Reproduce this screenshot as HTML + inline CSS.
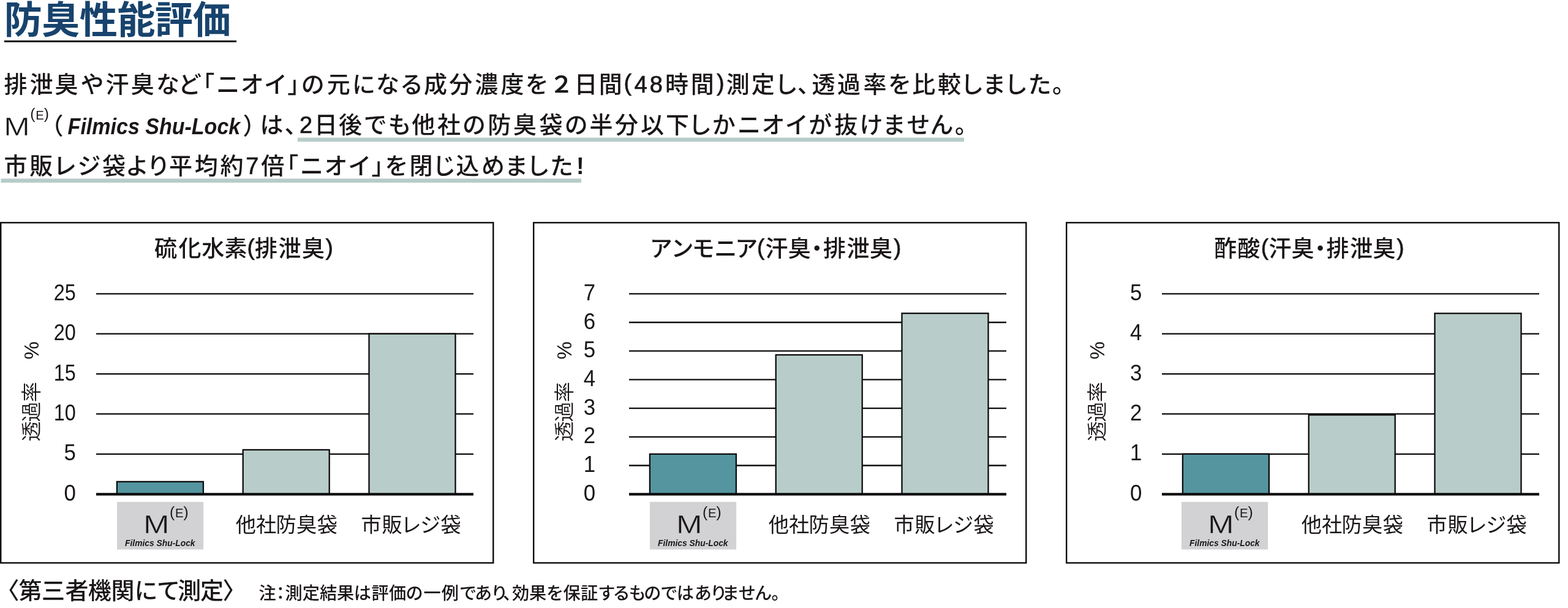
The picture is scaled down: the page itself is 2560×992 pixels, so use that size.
<!DOCTYPE html>
<html lang="ja">
<head>
<meta charset="utf-8">
<title>防臭性能評価</title>
<style>
html,body{margin:0;padding:0;background:#fff;}
body{width:2560px;height:992px;position:relative;overflow:hidden;font-family:"Liberation Sans", "Noto Sans CJK JP", sans-serif;color:#1a1617;}
h1{position:absolute;margin:0;left:6.7px;top:3px;font-size:62px;line-height:62px;font-weight:700;color:#17436d;letter-spacing:-0.4px;white-space:nowrap;}
.rule{position:absolute;left:6.6px;top:66.4px;width:379.9px;height:2.6px;background:#0d0b0c;}
svg{position:absolute;left:0;top:0;overflow:visible;}
svg text{font-family:"Liberation Sans", "Noto Sans CJK JP", sans-serif;fill:#1a1617;white-space:pre;}
.p{font-size:38px;font-weight:500;}
.d{stroke:#1a1617;stroke-width:0.7px;}
.ct{font-size:37px;font-weight:500;}
.num{font-size:37.5px;font-weight:400;}
.lb{font-size:33.2px;font-weight:400;}
.yl{font-size:33px;font-weight:350;}
.bm{font-weight:400;stroke-width:0.5px;}
.be{font-size:20.4px;font-weight:400;}
.bp{font-size:24.6px;}
.fs{font-weight:700;font-style:italic;}
.f2{font-size:28.2px;font-weight:500;}
</style>
</head>
<body>
<h1>防臭性能評価</h1>
<div class="rule"></div>
<svg width="2560" height="992" viewBox="0 0 2560 992">
<text class="p" x="6.6 48.4 89.6 131.5 172.5 213.7 255.0 291.1 312.5 353.3 392.7 431.1 469.2 491.8 533.7 575.0 614.1 652.9 692.0 733.2 775.2 817.4 857.7 897.7 937.4 977.7 1018.5 1035.8 1060.7 1085.9 1127.7 1170.0 1185.8 1226.8 1264.7 1301.8 1325.6 1366.9 1409.5 1450.0 1489.2 1531.1 1568.2 1604.2 1640.1 1678.6 1718.0" y="150.8 150.8 150.8 150.8 150.8 150.8 150.8 150.8 150.8 150.8 150.8 150.8 150.8 150.8 150.8 150.8 150.8 150.8 150.8 150.8 150.8 150.8 150.8 150.8 150.8 150.8 148.1 150.8 150.8 150.8 150.8 148.1 150.8 150.8 150.8 150.8 150.8 150.8 150.8 150.8 150.8 150.8 150.8 150.8 150.8 150.8 150.8">排泄臭や汗臭など「ニオイ」の元になる成分濃度を<tspan class="d">２</tspan>日間<tspan class="d">(48</tspan>時間<tspan class="d">)</tspan>測定し、透過率を比較しました。</text>
<rect x="485.9" y="224.6" width="1088.2" height="6.6" fill="#b6ccc8"/>
<text class="bm" transform="translate(6.2,220.7) scale(1.179,1)" style="font-size:43.2px;stroke:#fff">M</text><text class="be" x="49.2 58.2 71.7" y="194.3 194.7 194.3"><tspan class="bp">(</tspan>E<tspan class="bp">)</tspan></text>
<text class="p" x="65.5" y="219.2">（</text>
<text class="fs" transform="translate(110.6,219.4) scale(0.905,1)" style="font-size:37.6px">Filmics Shu-Lock</text>
<text class="p" x="396.5 424.5 464.6 489.1 513.0 552.9 593.7 633.5 672.2 714.0 754.9 796.3 838.1 880.4 921.8 962.5 1004.1 1045.9 1086.9 1124.1 1162.7 1203.9 1243.6 1281.8 1320.3 1362.2 1403.5 1440.8 1480.4 1518.4 1558.9" y="219.2 217.3 217.3 217.3 217.3 217.3 217.3 217.3 217.3 217.3 217.3 217.3 217.3 217.3 217.3 217.3 217.3 217.3 217.3 217.3 217.3 217.3 217.3 217.3 217.3 217.3 217.3 217.3 217.3 217.3 217.3">）は、<tspan class="d">2</tspan>日後でも他社の防臭袋の半分以下しかニオイが抜けません。</text>
<rect x="1.5" y="291.4" width="947.5" height="6.6" fill="#b6ccc8"/>
<text class="p" x="6.6 48.2 87.0 126.6 166.9 205.1 239.7 276.0 317.7 359.5 401.3 426.3 449.3 490.1 529.6 568.2 606.4 628.6 668.4 706.2 744.6 786.1 823.9 859.7 898.0" y="283.7">市販レジ袋より平均約<tspan class="d">7</tspan>倍「ニオイ」を閉じ込めました</text>
<text class="p" style="font-weight:700" x="940.9" y="283.7">!</text>
<g transform="translate(0,0)">
<rect x="1.2" y="363.3" width="804.1" height="555.1" fill="#fff" stroke="#0d0b0c" stroke-width="2.4"/>
<text class="ct" x="252.1 291.4 329.3 366.5 403.5 416.1 454.6 493.0 531.4" y="419.1 419.1 419.1 419.1 416.4 419.1 419.1 419.1 416.4">硫化水素<tspan class="d">(</tspan>排泄臭<tspan class="d">)</tspan></text>
<text class="num" transform="translate(123.8,816.7) scale(0.93,1)" text-anchor="end">0</text>
<line x1="157.0" x2="773.0" y1="740.8" y2="740.8" stroke="#0d0b0c" stroke-width="2.3"/>
<text class="num" transform="translate(123.8,751.3) scale(0.93,1)" text-anchor="end">5</text>
<line x1="157.0" x2="773.0" y1="675.4" y2="675.4" stroke="#0d0b0c" stroke-width="2.3"/>
<text class="num" transform="translate(123.7,685.9) scale(0.865,1)" text-anchor="end">10</text>
<line x1="157.0" x2="773.0" y1="610.1" y2="610.1" stroke="#0d0b0c" stroke-width="2.3"/>
<text class="num" transform="translate(123.7,620.6) scale(0.865,1)" text-anchor="end">15</text>
<line x1="157.0" x2="773.0" y1="544.7" y2="544.7" stroke="#0d0b0c" stroke-width="2.3"/>
<text class="num" transform="translate(123.7,555.2) scale(0.865,1)" text-anchor="end">20</text>
<line x1="157.0" x2="773.0" y1="479.3" y2="479.3" stroke="#0d0b0c" stroke-width="2.3"/>
<text class="num" transform="translate(123.7,489.8) scale(0.865,1)" text-anchor="end">25</text>
<rect x="190.9" y="785.9" width="141.0" height="20.3" fill="#54959f" stroke="#0d0b0c" stroke-width="2.3"/>
<rect x="396.7" y="733.9" width="141.0" height="72.3" fill="#b8cdc9" stroke="#0d0b0c" stroke-width="2.3"/>
<rect x="602.5" y="544.6" width="141.0" height="261.6" fill="#b8cdc9" stroke="#0d0b0c" stroke-width="2.3"/>
<line x1="157.0" x2="773.0" y1="806.4" y2="806.4" stroke="#0d0b0c" stroke-width="4.1"/>
<rect x="191.0" y="818.9" width="141.1" height="77.6" fill="#d2d2d4"/>
<text class="bm" transform="translate(234.0,869.9) scale(1.179,1)" style="font-size:43.2px;stroke:#d2d2d4">M</text><text class="be" x="277.0 286.0 299.5" y="843.5 843.9 843.5"><tspan class="bp">(</tspan>E<tspan class="bp">)</tspan></text>
<text class="fs" transform="translate(204.0,891.2) scale(0.905,1)" style="font-size:15.3px">Filmics Shu-Lock</text>
<text class="lb" x="384.7 417.9 450.5 484.0 517.7" y="868.3">他社防臭袋</text>
<text class="lb" x="589.6 623.4 654.4 686.2 719.6" y="868.3">市販レジ袋</text>
<text class="yl" transform="translate(63.2,720.2) rotate(-90)" x="0 31.7 64.2 97.2 133.6">透過率　%</text>
</g>
<g transform="translate(870,0)">
<rect x="1.2" y="363.3" width="804.1" height="555.1" fill="#fff" stroke="#0d0b0c" stroke-width="2.4"/>
<text class="ct" x="190.7 225.4 259.8 296.2 330.2 365.9 379.4 416.7 445.2 473.9 512.4 549.9 588.9" y="419.1 419.1 419.1 419.1 419.1 416.4 419.1 419.1 419.1 419.1 419.1 419.1 416.4">アンモニア<tspan class="d">(</tspan>汗臭・排泄臭<tspan class="d">)</tspan></text>
<text class="num" transform="translate(102.2,816.7) scale(0.93,1)" text-anchor="end">0</text>
<line x1="157.0" x2="773.0" y1="759.5" y2="759.5" stroke="#0d0b0c" stroke-width="2.3"/>
<text class="num" transform="translate(102.2,770.0) scale(0.93,1)" text-anchor="end">1</text>
<line x1="157.0" x2="773.0" y1="712.8" y2="712.8" stroke="#0d0b0c" stroke-width="2.3"/>
<text class="num" transform="translate(102.2,723.3) scale(0.93,1)" text-anchor="end">2</text>
<line x1="157.0" x2="773.0" y1="666.1" y2="666.1" stroke="#0d0b0c" stroke-width="2.3"/>
<text class="num" transform="translate(102.2,676.6) scale(0.93,1)" text-anchor="end">3</text>
<line x1="157.0" x2="773.0" y1="619.4" y2="619.4" stroke="#0d0b0c" stroke-width="2.3"/>
<text class="num" transform="translate(102.2,629.9) scale(0.93,1)" text-anchor="end">4</text>
<line x1="157.0" x2="773.0" y1="572.7" y2="572.7" stroke="#0d0b0c" stroke-width="2.3"/>
<text class="num" transform="translate(102.2,583.2) scale(0.93,1)" text-anchor="end">5</text>
<line x1="157.0" x2="773.0" y1="526.0" y2="526.0" stroke="#0d0b0c" stroke-width="2.3"/>
<text class="num" transform="translate(102.2,536.5) scale(0.93,1)" text-anchor="end">6</text>
<line x1="157.0" x2="773.0" y1="479.3" y2="479.3" stroke="#0d0b0c" stroke-width="2.3"/>
<text class="num" transform="translate(102.2,489.8) scale(0.93,1)" text-anchor="end">7</text>
<rect x="190.9" y="740.8" width="141.0" height="65.4" fill="#54959f" stroke="#0d0b0c" stroke-width="2.3"/>
<rect x="396.7" y="579.0" width="141.0" height="227.2" fill="#b8cdc9" stroke="#0d0b0c" stroke-width="2.3"/>
<rect x="602.5" y="511.2" width="141.0" height="295.0" fill="#b8cdc9" stroke="#0d0b0c" stroke-width="2.3"/>
<line x1="157.0" x2="773.0" y1="806.4" y2="806.4" stroke="#0d0b0c" stroke-width="4.1"/>
<rect x="191.0" y="818.9" width="141.1" height="77.6" fill="#d2d2d4"/>
<text class="bm" transform="translate(234.0,869.9) scale(1.179,1)" style="font-size:43.2px;stroke:#d2d2d4">M</text><text class="be" x="277.0 286.0 299.5" y="843.5 843.9 843.5"><tspan class="bp">(</tspan>E<tspan class="bp">)</tspan></text>
<text class="fs" transform="translate(204.0,891.2) scale(0.905,1)" style="font-size:15.3px">Filmics Shu-Lock</text>
<text class="lb" x="384.7 417.9 450.5 484.0 517.7" y="868.3">他社防臭袋</text>
<text class="lb" x="589.6 623.4 654.4 686.2 719.6" y="868.3">市販レジ袋</text>
<text class="yl" transform="translate(63.2,720.2) rotate(-90)" x="0 31.7 64.2 97.2 133.6">透過率　%</text>
</g>
<g transform="translate(1740,0)">
<rect x="1.2" y="363.3" width="804.1" height="555.1" fill="#fff" stroke="#0d0b0c" stroke-width="2.4"/>
<text class="ct" x="242.2 280.3 318.8 331.4 368.6 397.1 425.5 464.0 501.4 540.2" y="419.1 419.1 416.4 419.1 419.1 419.1 419.1 419.1 419.1 416.4">酢酸<tspan class="d">(</tspan>汗臭・排泄臭<tspan class="d">)</tspan></text>
<text class="num" transform="translate(124.4,816.7) scale(0.93,1)" text-anchor="end">0</text>
<line x1="157.0" x2="773.0" y1="740.8" y2="740.8" stroke="#0d0b0c" stroke-width="2.3"/>
<text class="num" transform="translate(124.4,751.3) scale(0.93,1)" text-anchor="end">1</text>
<line x1="157.0" x2="773.0" y1="675.4" y2="675.4" stroke="#0d0b0c" stroke-width="2.3"/>
<text class="num" transform="translate(124.4,685.9) scale(0.93,1)" text-anchor="end">2</text>
<line x1="157.0" x2="773.0" y1="610.1" y2="610.1" stroke="#0d0b0c" stroke-width="2.3"/>
<text class="num" transform="translate(124.4,620.6) scale(0.93,1)" text-anchor="end">3</text>
<line x1="157.0" x2="773.0" y1="544.7" y2="544.7" stroke="#0d0b0c" stroke-width="2.3"/>
<text class="num" transform="translate(124.4,555.2) scale(0.93,1)" text-anchor="end">4</text>
<line x1="157.0" x2="773.0" y1="479.3" y2="479.3" stroke="#0d0b0c" stroke-width="2.3"/>
<text class="num" transform="translate(124.4,489.8) scale(0.93,1)" text-anchor="end">5</text>
<rect x="190.9" y="740.7" width="141.0" height="65.5" fill="#54959f" stroke="#0d0b0c" stroke-width="2.3"/>
<rect x="396.7" y="677.0" width="141.0" height="129.2" fill="#b8cdc9" stroke="#0d0b0c" stroke-width="2.3"/>
<rect x="602.5" y="511.3" width="141.0" height="294.9" fill="#b8cdc9" stroke="#0d0b0c" stroke-width="2.3"/>
<line x1="157.0" x2="773.0" y1="806.4" y2="806.4" stroke="#0d0b0c" stroke-width="4.1"/>
<rect x="189.0" y="818.9" width="141.1" height="77.6" fill="#d2d2d4"/>
<text class="bm" transform="translate(232.0,869.9) scale(1.179,1)" style="font-size:43.2px;stroke:#d2d2d4">M</text><text class="be" x="275.0 284.0 297.5" y="843.5 843.9 843.5"><tspan class="bp">(</tspan>E<tspan class="bp">)</tspan></text>
<text class="fs" transform="translate(202.0,891.2) scale(0.905,1)" style="font-size:15.3px">Filmics Shu-Lock</text>
<text class="lb" x="384.7 417.9 450.5 484.0 517.7" y="868.3">他社防臭袋</text>
<text class="lb" x="589.6 623.4 654.4 686.2 719.6" y="868.3">市販レジ袋</text>
<text class="yl" transform="translate(63.2,720.2) rotate(-90)" x="0 31.7 64.2 97.2 133.6">透過率　%</text>
</g>
<text class="p" x="-6.4 30.5 67.9 106.5 143.7 181.6 219.4 256.1 290.2 327.1 363.4" y="977.4">〈第三者機関にて測定〉</text>
<text class="f2" x="422.5 443.7 465.5 493.8 522.1 549.9 577.8 606.5 635.1 662.5 691.5 720.7 749.9 775.1 801.2 821.0 836.1 864.0 891.9 919.6 948.1 976.2 1000.4 1026.6 1051.3 1078.3 1104.7 1133.8 1159.3 1178.7 1205.7 1231.9 1259.5" y="978.1">注：測定結果は評価の一例であり、効果を保証するものではありません。</text>
</svg>
</body>
</html>
